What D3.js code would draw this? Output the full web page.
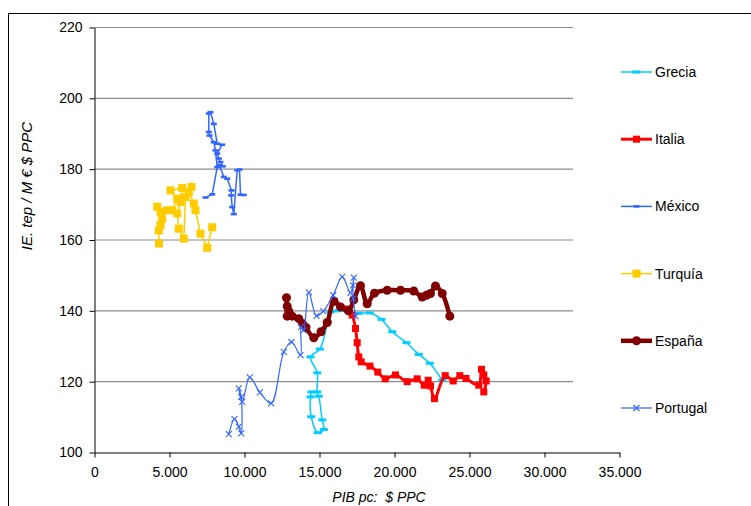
<!DOCTYPE html>
<html>
<head>
<meta charset="utf-8">
<script src="https://cdn.jsdelivr.net/npm/d3@7"></script>
<style>
  body { margin: 0; background: #fff; }
  svg { font-family: "Liberation Sans", Arial, sans-serif; }
</style>
</head>
<body>
<div id="chart"></div>
<script>
const width = 751;
const height = 506;

// PIB pc ($ PPC), IE (tep / M $ PPC)
const grecia = [
    [14467, 117.1], [14400, 115.7], [14447, 110.1], [14887, 105.6], [15287, 106.5], [15180, 109.2],
    [14953, 115.9], [14847, 117.1], [14847, 122.5], [14400, 127.0], [15020, 129.2], [15553, 136.9],
    [15733, 139.7], [16180, 140.0], [17620, 139.3], [18353, 139.4], [19133, 137.6], [19847, 134.1],
    [20800, 131.0], [21620, 127.7], [22353, 125.2], [23180, 120.4]
];
const italia = [
    [16000, 142.6], [16867, 140.5], [17180, 138.8], [17400, 135.0], [17513, 131.0], [17620, 127.0],
    [17780, 125.6], [18367, 124.4], [18887, 122.7], [19380, 120.8], [20067, 121.9], [20847, 120.0],
    [21513, 120.8], [21980, 119.0], [22247, 120.4], [22400, 118.8], [22667, 115.2], [23380, 121.7],
    [23913, 120.2], [24353, 121.7], [24767, 120.9], [25620, 119.0], [25800, 123.5], [25953, 121.9],
    [26113, 120.2], [25953, 117.1]
];
const mexico = [
    [7400, 172.0], [7850, 172.9], [8180, 180.6], [8067, 185.3], [7953, 187.6], [7667, 189.5],
    [7620, 190.5], [7620, 195.7], [7733, 196.1], [7953, 192.8], [8180, 187.2], [8513, 186.9],
    [8180, 184.4], [8287, 183.0], [8400, 182.0], [8553, 180.8], [8333, 181.1], [8620, 177.8],
    [8847, 177.3], [9133, 174.0], [9113, 172.6], [9180, 169.3], [9287, 167.3], [9513, 179.7],
    [9667, 179.9], [9733, 172.8], [9953, 172.7]
];
const turquia = [
    [4300, 159.0], [4287, 162.7], [4400, 164.2], [4513, 166.0], [4400, 167.8], [4180, 169.4],
    [4847, 168.4], [5180, 168.4], [5513, 171.7], [5067, 174.0], [5847, 174.7], [5733, 170.7],
    [5513, 167.5], [5620, 163.2], [5953, 160.4], [6067, 172.1], [6467, 175.0], [6287, 173.5],
    [6620, 170.3], [6733, 168.4], [7067, 161.8], [7513, 157.8], [7847, 163.6]
];
const espana = [
    [12800, 143.7], [12847, 141.3], [12953, 139.9], [12847, 138.5], [13180, 138.5], [13620, 137.8],
    [13867, 136.4], [14100, 135.3], [14620, 132.4], [15100, 134.1], [15513, 136.7], [15967, 142.7],
    [16400, 141.1], [16933, 140.0], [17287, 143.1], [17733, 147.1], [18180, 142.0], [18667, 145.0],
    [19513, 145.8], [20400, 145.8], [21287, 145.6], [21847, 143.9], [22133, 144.4], [22400, 144.9],
    [22733, 147.0], [23180, 144.9], [23687, 138.5]
];
const portugal = [
    [8953, 105.2], [9333, 109.4], [9620, 107.3], [9780, 105.4], [9780, 115.7], [9620, 118.1],
    [9847, 114.3], [10353, 121.2], [11020, 117.0], [11780, 113.9], [12620, 128.4], [13133, 131.2],
    [13733, 127.5], [13767, 135.5], [13933, 134.5], [14287, 145.2], [14800, 138.6], [15247, 139.9],
    [15913, 144.4], [16513, 149.6], [17067, 145.1], [17287, 149.4], [17233, 147.2], [17247, 143.5],
    [17400, 138.5]
];

const xTicks = [0, 5000, 10000, 15000, 20000, 25000, 30000, 35000];
const yTicks = [100, 120, 140, 160, 180, 200, 220];

const series = [
    { name: "Grecia", data: grecia, color: "#00ccff", width: 1.5, marker: "dash", smooth: true },
    { name: "Italia", data: italia, color: "#ff0000", width: 3, marker: "square", smooth: true },
    { name: "México", data: mexico, color: "#3366ff", width: 1.5, marker: "smalldash", smooth: false },
    { name: "Turquía", data: turquia, color: "#ffcc00", width: 1.5, marker: "bigsquare", smooth: false },
    { name: "España", data: espana, color: "#800000", width: 4.5, marker: "circle", smooth: true },
    { name: "Portugal", data: portugal, color: "#3366ff", width: 1.2, marker: "cross", smooth: true }
];

const svg = d3.select("#chart")
    .append("svg")
    .attr("width", width)
    .attr("height", height);

// outer frame (runs past the window at right and bottom)
svg.append("rect")
    .attr("x", 8.5).attr("y", 13.5)
    .attr("width", 800).attr("height", 600)
    .attr("fill", "none").attr("stroke", "#000");

const x = d3.scaleLinear().domain([0, 35000]).range([94.5, 619.5]);
const y = d3.scaleLinear().domain([100, 220]).range([452.5, 27.5]);

const locale = d3.formatLocale({ decimal: ",", thousands: ".", grouping: [3], currency: ["", ""] });
const fmt = locale.format(",");

// gridlines
svg.append("g")
    .selectAll("line")
    .data(yTicks.filter(d => d > 100))
    .join("line")
    .attr("x1", x(0)).attr("x2", x(35000))
    .attr("y1", d => y(d)).attr("y2", d => y(d))
    .attr("stroke", "#8c8c8c")
    .attr("stroke-width", 1.2);

// axes
const xAxis = svg.append("g")
    .attr("transform", `translate(0,${y(100)})`)
    .call(d3.axisBottom(x).tickValues(xTicks).tickFormat(fmt).tickSize(5).tickSizeOuter(0).tickPadding(10));

const yAxis = svg.append("g")
    .attr("transform", `translate(${x(0)},0)`)
    .call(d3.axisLeft(y).tickValues(yTicks).tickSize(5).tickSizeOuter(0).tickPadding(7));

[xAxis, yAxis].forEach(a => {
    a.select(".domain").attr("stroke", "#000");
    a.selectAll(".tick line").attr("stroke", "#000");
    a.selectAll("text")
        .attr("fill", "#000")
        .style("font-size", "14px")
        .style("font-family", "'Liberation Sans', Arial, sans-serif");
});

// axis titles
svg.append("text")
    .attr("x", 379).attr("y", 502)
    .attr("text-anchor", "middle")
    .style("font-size", "14px")
    .style("font-style", "italic")
    .attr("xml:space", "preserve")
    .text("PIB pc:  $ PPC");

svg.append("text")
    .attr("transform", "translate(32,186) rotate(-90)")
    .attr("text-anchor", "middle")
    .style("font-size", "15px")
    .style("font-style", "italic")
    .text("IE. tep / M € $ PPC");

// series lines
const lineSmooth = d3.line().x(d => x(d[0])).y(d => y(d[1])).curve(d3.curveCatmullRom.alpha(0.5));
const lineStraight = d3.line().x(d => x(d[0])).y(d => y(d[1]));

function drawMarker(g, s, cx, cy) {
    if (s.marker === "dash") {
        g.append("rect").attr("x", cx - 4).attr("y", cy - 1.5).attr("width", 8).attr("height", 3).attr("fill", s.color);
    } else if (s.marker === "smalldash") {
        g.append("rect").attr("x", cx - 3).attr("y", cy - 1.3).attr("width", 6).attr("height", 2.6).attr("fill", s.color);
    } else if (s.marker === "square") {
        g.append("rect").attr("x", cx - 3.5).attr("y", cy - 3.5).attr("width", 7).attr("height", 7).attr("fill", s.color);
    } else if (s.marker === "bigsquare") {
        g.append("rect").attr("x", cx - 4).attr("y", cy - 4).attr("width", 8).attr("height", 8).attr("fill", s.color);
    } else if (s.marker === "circle") {
        g.append("circle").attr("cx", cx).attr("cy", cy).attr("r", 4.5).attr("fill", s.color);
    } else if (s.marker === "cross") {
        g.append("path")
            .attr("d", `M${cx - 3},${cy - 3}L${cx + 3},${cy + 3}M${cx - 3},${cy + 3}L${cx + 3},${cy - 3}`)
            .attr("stroke", s.color).attr("stroke-width", 1.1).attr("fill", "none");
    }
}

series.forEach(s => {
    const g = svg.append("g");
    g.append("path")
        .datum(s.data)
        .attr("d", s.smooth ? lineSmooth : lineStraight)
        .attr("fill", "none")
        .attr("stroke", s.color)
        .attr("stroke-width", s.width)
        .attr("stroke-linejoin", "round");
    s.data.forEach(d => drawMarker(g, s, x(d[0]), y(d[1])));
});

// legend (white box sitting over the right end of the plot)
const legend = svg.append("g");
legend.append("rect")
    .attr("x", 573).attr("y", 20)
    .attr("width", 177).attr("height", 420)
    .attr("fill", "#fff");

series.forEach((s, i) => {
    const ly = 72 + i * 67.2;
    const g = legend.append("g");
    g.append("line")
        .attr("x1", 621).attr("x2", 652)
        .attr("y1", ly).attr("y2", ly)
        .attr("stroke", s.color)
        .attr("stroke-width", s.width);
    drawMarker(g, s, 636.5, ly);
    g.append("text")
        .attr("x", 655).attr("y", ly + 5)
        .style("font-size", "14px")
        .text(s.name);
});
</script>
</body>
</html>
